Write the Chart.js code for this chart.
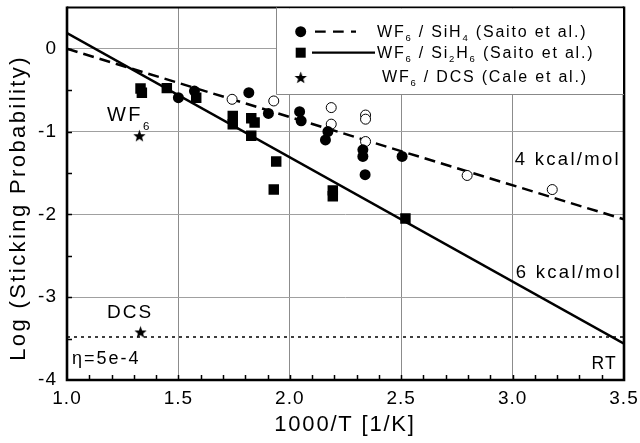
<!DOCTYPE html>
<html>
<head>
<meta charset="utf-8">
<script src="https://cdn.jsdelivr.net/npm/chart.js@4.4.1/dist/chart.umd.min.js"></script>
<style>
  html, body { margin: 0; padding: 0; background: #fff; }
  canvas { display: block; }
</style>
</head>
<body>
<canvas id="chart" width="640" height="443"></canvas>
<script>
// WF6 sticking probability vs 1000/T

// WF6 / SiH4 (Saito et al.), filled and open symbols
const sih4X = [1.50, 1.572, 1.816, 1.904, 2.044, 2.051, 2.171, 2.160, 2.328, 2.328, 2.338, 2.504];
const sih4Y = [-0.59, -0.51, -0.53, -0.78, -0.76, -0.87, -1.00, -1.10, -1.22, -1.30, -1.52, -1.30];
const sih4OpenX = [1.741, 1.928, 2.186, 2.186, 2.34, 2.34, 2.34, 2.796, 3.178];
const sih4OpenY = [-0.61, -0.63, -0.71, -0.91, -0.80, -0.85, -1.12, -1.53, -1.70];

// WF6 / Si2H6 (Saito et al.)
const si2h6X = [1.330, 1.336, 1.448, 1.580, 1.744, 1.744, 1.827, 1.842, 1.827, 1.939, 1.928, 2.193, 2.193, 2.519];
const si2h6Y = [-0.48, -0.53, -0.475, -0.59, -0.81, -0.91, -0.84, -0.89, -1.05, -1.36, -1.70, -1.71, -1.78, -2.05];

// WF6 / DCS (Cale et al.)
const dcsX = [1.325, 1.33];
const dcsY = [-1.05, -3.42];

// fitted lines
const fit4X = [1.0, 3.5];
const fit4Y = [0.0, -2.06];
const fit6X = [1.0, 3.5];
const fit6Y = [0.19, -3.56];
const etaX = [1.0, 3.5];
const etaY = [-3.48, -3.48];

// axes
const xMin = 1.0, xMax = 3.5;
const yMin = -4, yMax = 0.5;
const xTitle = '1000/T [1/K]';
const yTitle = 'Log (Sticking Probability)';

// legend entries ("_" marks a subscript character)
const legendLabels = ['WF_6 / SiH_4 (Saito et al.)', 'WF_6 / Si_2H_6 (Saito et al.)', 'WF_6 / DCS (Cale et al.)'];

const FONT = "'Liberation Sans', Arial, Helvetica, sans-serif";

const pts = (xs, ys) => xs.map((x, i) => ({ x: x, y: ys[i] }));

function makeStar(r) {
  const c = document.createElement('canvas');
  const s = Math.ceil(r * 2 + 2);
  c.width = s; c.height = s;
  const g = c.getContext('2d');
  g.fillStyle = '#000';
  g.beginPath();
  for (let i = 0; i < 10; i++) {
    const a = -Math.PI / 2 + i * Math.PI / 5;
    const rr = i % 2 ? r * 0.42 : r;
    g.lineTo(s / 2 + rr * Math.cos(a), s / 2 + 0.6 + rr * Math.sin(a));
  }
  g.closePath();
  g.fill();
  return c;
}
const starImg = makeStar(6.5);

// text with "_x" subscripts, y is the cap centre
function richText(ctx, str, x, y, size, spacing, align, subSize, subDrop) {
  const parts = [];
  for (let i = 0; i < str.length; i++) {
    if (str[i] === '_') { parts.push({ t: str[i + 1], sub: true }); i++; }
    else if (parts.length && !parts[parts.length - 1].sub) parts[parts.length - 1].t += str[i];
    else parts.push({ t: str[i], sub: false });
  }
  ctx.save();
  ctx.letterSpacing = spacing + 'px';
  ctx.textBaseline = 'alphabetic';
  ctx.textAlign = 'left';
  let w = 0;
  parts.forEach(p => {
    ctx.font = (p.sub ? subSize : size) + 'px ' + FONT;
    p.w = ctx.measureText(p.t).width;
    w += p.w;
  });
  let cx = x;
  if (align === 'center') cx = x - w / 2;
  if (align === 'right') cx = x - w;
  const base = y + 0.36 * size;
  parts.forEach(p => {
    ctx.font = (p.sub ? subSize : size) + 'px ' + FONT;
    ctx.fillText(p.t, cx, p.sub ? base + subDrop : base);
    cx += p.w;
  });
  ctx.restore();
}

const decorPlugin = {
  id: 'decor',
  beforeDraw(chart) {
    chart.ctx.letterSpacing = '1px';
  },
  afterDatasetsDraw(chart) {
    const { ctx, chartArea: a, scales: { x, y } } = chart;
    ctx.save();
    ctx.letterSpacing = '0px';
    ctx.strokeStyle = '#000';

    // inward minor ticks
    ctx.lineWidth = 1.5;
    ctx.beginPath();
    for (let k = 11; k < 35; k++) {
      const px = Math.round(x.getPixelForValue(k / 10)) + 0.5;
      ctx.moveTo(px, a.bottom);
      ctx.lineTo(px, a.bottom - 5);
    }
    for (let k = -7; k <= 0; k++) {
      const py = Math.round(y.getPixelForValue(k / 2)) + 0.5;
      ctx.moveTo(a.left, py);
      ctx.lineTo(a.left + 5, py);
    }
    ctx.stroke();

    // frame
    ctx.lineWidth = 2;
    ctx.beginPath();
    ctx.moveTo(a.left, a.top);
    ctx.lineTo(a.right, a.top);
    ctx.stroke();
    ctx.lineWidth = 2.6;
    ctx.beginPath();
    ctx.moveTo(a.left, a.top - 1);
    ctx.lineTo(a.left, a.bottom);
    ctx.lineTo(a.right, a.bottom);
    ctx.lineTo(a.right, a.top - 1);
    ctx.stroke();

    // legend box
    const lx = 276, ly = a.top, lr = a.right, lb = 94;
    ctx.fillStyle = '#fff';
    ctx.fillRect(lx, ly + 1, lr - lx - 1, lb - ly - 1);
    ctx.strokeStyle = '#888';
    ctx.lineWidth = 1;
    ctx.beginPath();
    ctx.moveTo(lx + 0.5, ly);
    ctx.lineTo(lx + 0.5, lb + 0.5);
    ctx.lineTo(lr, lb + 0.5);
    ctx.stroke();

    ctx.fillStyle = '#000';
    ctx.strokeStyle = '#000';
    const mx = 300.7;
    const rows = [31.7, 52.7, 77.5];
    // circle + dashed
    ctx.beginPath();
    ctx.arc(mx, rows[0], 5.5, 0, Math.PI * 2);
    ctx.fill();
    ctx.lineWidth = 2.2;
    ctx.setLineDash([10.7, 7.3]);
    ctx.beginPath();
    ctx.moveTo(315, rows[0]);
    ctx.lineTo(356, rows[0]);
    ctx.stroke();
    ctx.setLineDash([]);
    // square + solid
    ctx.fillRect(mx - 5, rows[1] - 5, 10, 10);
    ctx.beginPath();
    ctx.moveTo(312, rows[1]);
    ctx.lineTo(375, rows[1]);
    ctx.stroke();
    // star
    ctx.drawImage(starImg, mx - starImg.width / 2, rows[2] - starImg.height / 2);

    richText(ctx, legendLabels[0], 377, 31, 16, 1.8, 'left', 9.5, 4.5);
    richText(ctx, legendLabels[1], 377, 52, 16, 1.8, 'left', 9.5, 4.5);
    richText(ctx, legendLabels[2], 382, 76, 16, 1.8, 'left', 9.5, 4.5);

    // annotations
    richText(ctx, 'WF_6', 107, 114, 20, 2.4, 'left', 11.5, 9);
    richText(ctx, 'DCS', 130, 311, 19, 2, 'center', 11, 8);
    richText(ctx, 'η=5e-4', 72, 358, 18, 2, 'left', 11, 8);
    richText(ctx, 'RT', 617, 363, 17.5, 1.2, 'right', 11, 8);
    richText(ctx, '4 kcal/mol', 621, 158, 18.5, 2.3, 'right', 11, 8);
    richText(ctx, '6 kcal/mol', 622, 271, 18.5, 2.3, 'right', 11, 8);

    // axis titles
    richText(ctx, xTitle, 345, 423, 22, 1.8, 'center', 12, 8);
    ctx.translate(17, 208);
    ctx.rotate(-Math.PI / 2);
    richText(ctx, yTitle, 0, 0, 22, 2.4, 'center', 12, 8);
    ctx.restore();
  }
};

new Chart(document.getElementById('chart'), {
  type: 'scatter',
  data: {
    datasets: [
      { data: pts(sih4X, sih4Y), pointStyle: 'circle', pointRadius: 5.5, backgroundColor: '#000', borderColor: '#000', borderWidth: 0, order: 1 },
      { data: pts(sih4OpenX, sih4OpenY), pointStyle: 'circle', pointRadius: 5, backgroundColor: '#fff', borderColor: '#000', borderWidth: 1, order: 1 },
      { data: pts(si2h6X, si2h6Y), pointStyle: 'rect', pointRadius: 7.4, backgroundColor: '#000', borderColor: '#000', borderWidth: 0, order: 1 },
      { data: pts(dcsX, dcsY), pointStyle: starImg, pointRadius: 6, order: 1 },
      { data: pts(fit4X, fit4Y), showLine: true, pointRadius: 0, borderColor: '#000', borderWidth: 2.5, borderDash: [11, 6], order: 2 },
      { data: pts(fit6X, fit6Y), showLine: true, pointRadius: 0, borderColor: '#000', borderWidth: 2.5, order: 2 },
      { data: pts(etaX, etaY), showLine: true, pointRadius: 0, borderColor: '#000', borderWidth: 1.5, borderDash: [3, 4], order: 2 }
    ]
  },
  options: {
    responsive: false,
    animation: false,
    devicePixelRatio: 1,
    layout: { padding: { top: 7, right: 16, left: 0, bottom: 0 } },
    plugins: { legend: { display: false }, tooltip: { enabled: false } },
    scales: {
      x: {
        type: 'linear',
        min: xMin, max: xMax,
        afterFit: s => { s.height = 63; s.paddingLeft = 0; s.paddingRight = 0; },
        border: { display: false },
        grid: {
          drawTicks: false,
          lineWidth: 1,
          color: c => {
            const k = Math.round(c.tick.value * 10);
            return (k % 5 === 0 && k > 10 && k < 35) ? '#8c8c8c' : 'rgba(0,0,0,0)';
          }
        },
        ticks: {
          stepSize: 0.1,
          autoSkip: false,
          maxRotation: 0,
          padding: 7,
          color: '#000',
          font: { family: FONT, size: 19 },
          callback: v => (Math.round(v * 10) % 5 === 0 ? (Math.round(v * 10) / 10).toFixed(1) : '')
        }
      },
      y: {
        type: 'linear',
        min: yMin, max: yMax,
        afterFit: s => { s.width = 67; s.paddingTop = 0; s.paddingBottom = 0; },
        border: { display: false },
        grid: {
          drawTicks: false,
          lineWidth: 1,
          color: c => {
            const v = c.tick.value;
            return (Number.isInteger(v) && v > yMin && v < yMax) ? '#a0a0a0' : 'rgba(0,0,0,0)';
          }
        },
        ticks: {
          stepSize: 0.5,
          autoSkip: false,
          padding: 10,
          color: '#000',
          font: { family: FONT, size: 19 },
          callback: v => (Number.isInteger(v) ? String(v) : '')
        }
      }
    }
  },
  plugins: [decorPlugin]
});
</script>
</body>
</html>
